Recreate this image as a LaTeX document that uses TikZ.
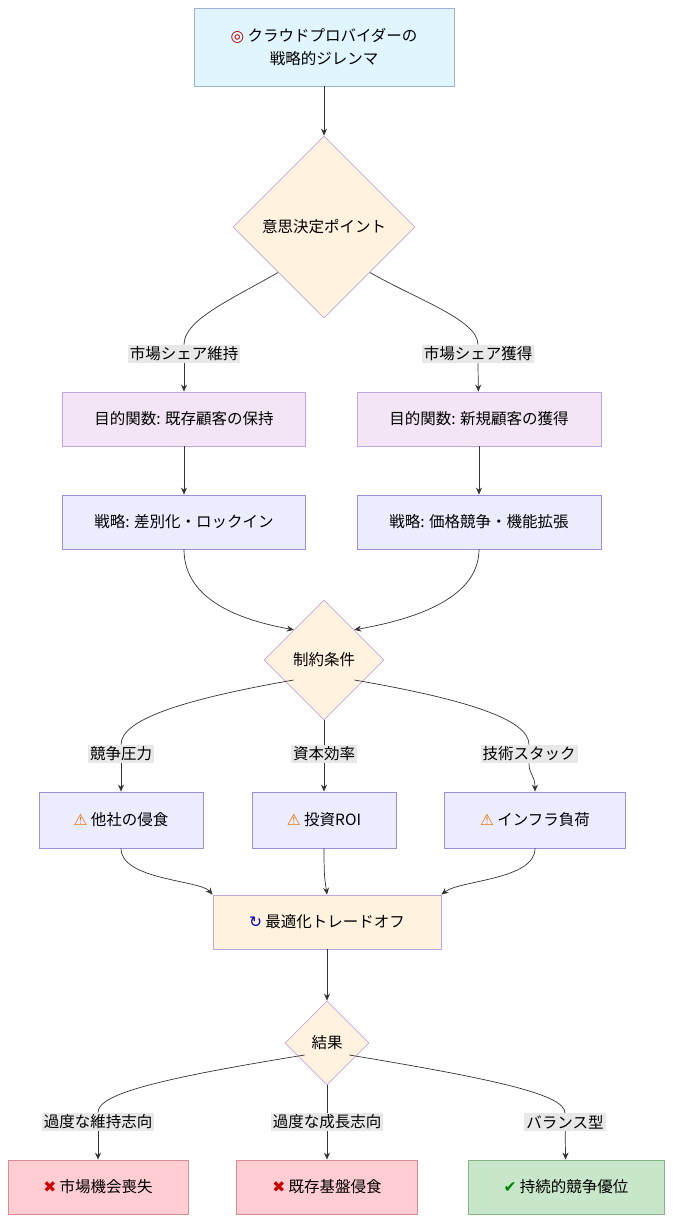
\documentclass[tikz,border=0pt]{standalone}
\usepackage{fontspec}
\setmainfont{Noto Sans CJK JP}
\newfontfamily\symfont{DejaVu Sans}
\usetikzlibrary{positioning,arrows.meta,shapes.geometric}
\definecolor{boxblue}{HTML}{E1F5FE}
\definecolor{lineblue}{HTML}{9DB3D6}
\definecolor{decfill}{HTML}{FFF3E0}
\definecolor{decline}{HTML}{C3A6DE}
\definecolor{objfill}{HTML}{F3E5F5}
\definecolor{stratfill}{HTML}{ECECFF}
\definecolor{stratline}{HTML}{9C8FD8}
\definecolor{badfill}{HTML}{FFCDD2}
\definecolor{badline}{HTML}{D98A93}
\definecolor{goodfill}{HTML}{C8E6C9}
\definecolor{goodline}{HTML}{86B486}
\definecolor{lblfill}{HTML}{E8E8E8}
\definecolor{edgecol}{HTML}{333333}
\newcommand{\sym}[2]{{\symfont\color{#1}#2}}
\begin{document}
\begin{tikzpicture}[x=1pt,y=-1pt,font=\fontsize{15.5}{23}\selectfont,
	box/.style={draw, rectangle, align=center, minimum height=54pt, line width=0.8pt},
	dec/.style={draw=decline, fill=decfill, diamond, aspect=1, inner sep=1pt, line width=0.8pt},
	lbl/.style={fill=lblfill, inner sep=2pt},
	edge/.style={draw=edgecol, line width=0.7pt},
	arr/.style={edge, -{Stealth[length=7pt,width=6pt]}}]
	\useasboundingbox (0,0) rectangle (672,1222);
	% top
	\node (start) at (324,47) [box, fill=boxblue, draw=lineblue, minimum width=260pt, minimum height=78pt] {\sym{red!70!black}{◎} クラウドプロバイダーの\\戦略的ジレンマ};
	\node (choice) at (324,227) [dec, minimum width=182pt, minimum height=182pt] {意思決定ポイント};
	\node (keepl) at (184,354) [lbl] {市場シェア維持};
	\node (gainl) at (478,354) [lbl] {市場シェア獲得};
	\node (objkeep) at (184,419) [box, fill=objfill, draw=decline, minimum width=243pt] {目的関数: 既存顧客の保持};
	\node (objgain) at (479,419) [box, fill=objfill, draw=decline, minimum width=244pt] {目的関数: 新規顧客の獲得};
	\node (stkeep) at (184,522) [box, fill=stratfill, draw=stratline, minimum width=243pt] {戦略: 差別化・ロックイン};
	\node (stgain) at (479,522) [box, fill=stratfill, draw=stratline, minimum width=244pt] {戦略: 価格競争・機能拡張};
	\node (limits) at (324,660) [dec, minimum width=120pt, minimum height=120pt] {制約条件};
	\node (compl) at (121,754) [lbl] {競争圧力};
	\node (capl) at (324,754) [lbl] {資本効率};
	\node (techl) at (529,754) [lbl] {技術スタック};
	\node (risk1) at (121,820) [box, fill=stratfill, draw=stratline, minimum width=164pt, minimum height=56pt] {\sym{orange!90!black}{⚠} 他社の侵食};
	\node (risk2) at (324,820) [box, fill=stratfill, draw=stratline, minimum width=144pt, minimum height=56pt] {\sym{orange!90!black}{⚠} 投資ROI};
	\node (risk3) at (535,820) [box, fill=stratfill, draw=stratline, minimum width=181pt, minimum height=56pt] {\sym{orange!90!black}{⚠} インフラ負荷};
	\node (trade) at (327,922) [box, fill=decfill, draw=decline, minimum width=228pt] {\sym{blue!70!black}{↻} 最適化トレードオフ};
	\node (result) at (327,1043) [dec, minimum width=84pt, minimum height=84pt] {結果};
	\node (overkl) at (98,1122) [lbl] {過度な維持志向};
	\node (overgl) at (327,1122) [lbl] {過度な成長志向};
	\node (ball) at (565,1122) [lbl] {バランス型};
	\node (lost) at (98,1187) [box, fill=badfill, draw=badline, minimum width=180pt] {\sym{red!80!black}{✖} 市場機会喪失};
	\node (erode) at (327,1187) [box, fill=badfill, draw=badline, minimum width=181pt] {\sym{red!80!black}{✖} 既存基盤侵食};
	\node (win) at (566,1187) [box, fill=goodfill, draw=goodline, minimum width=196pt] {\sym{green!50!black}{✔} 持続的競争優位};
	% edges
	\draw [arr] (start) -- (choice);
	\draw [edge] (choice.west) ++(45.5,45.5) .. controls (230,300) and (184,320) .. (keepl.north);
	\draw [edge] (choice.east) ++(-45.5,45.5) .. controls (418,300) and (478,320) .. (gainl.north);
	\draw [arr] (keepl) .. controls (184,375) .. (objkeep);
	\draw [arr] (gainl) .. controls (478,375) .. (objgain);
	\draw [arr] (objkeep) -- (stkeep);
	\draw [arr] (objgain) -- (stgain);
	\draw [arr] (stkeep) .. controls (184,600) and (240,620) .. (limits.north west);
	\draw [arr] (stgain) .. controls (479,600) and (410,620) .. (limits.north east);
	\draw [edge] (limits.west) ++(30,20) .. controls (180,700) and (121,720) .. (compl.north);
	\draw [edge] (limits.south) -- (capl.north);
	\draw [edge] (limits.east) ++(-30,20) .. controls (470,700) and (529,720) .. (techl.north);
	\draw [arr] (compl) -- (risk1);
	\draw [arr] (capl) -- (risk2);
	\draw [arr] (techl) .. controls (529,775) and (535,775) .. (risk3);
	\draw [arr] (risk1) .. controls (121,880) and (200,880) .. (trade.north west);
	\draw [arr] (risk2) .. controls (324,880) and (325,880) .. (trade.north);
	\draw [arr] (risk3) .. controls (535,880) and (460,880) .. (trade.north east);
	\draw [arr] (trade) -- (result);
	\draw [edge] (result.west) ++(20,12) .. controls (150,1080) and (98,1095) .. (overkl.north);
	\draw [edge] (result.south) -- (overgl.north);
	\draw [edge] (result.east) ++(-20,12) .. controls (500,1080) and (565,1095) .. (ball.north);
	\draw [arr] (overkl) -- (lost);
	\draw [arr] (overgl) -- (erode);
	\draw [arr] (ball) -- (win);
\end{tikzpicture}
\end{document}
